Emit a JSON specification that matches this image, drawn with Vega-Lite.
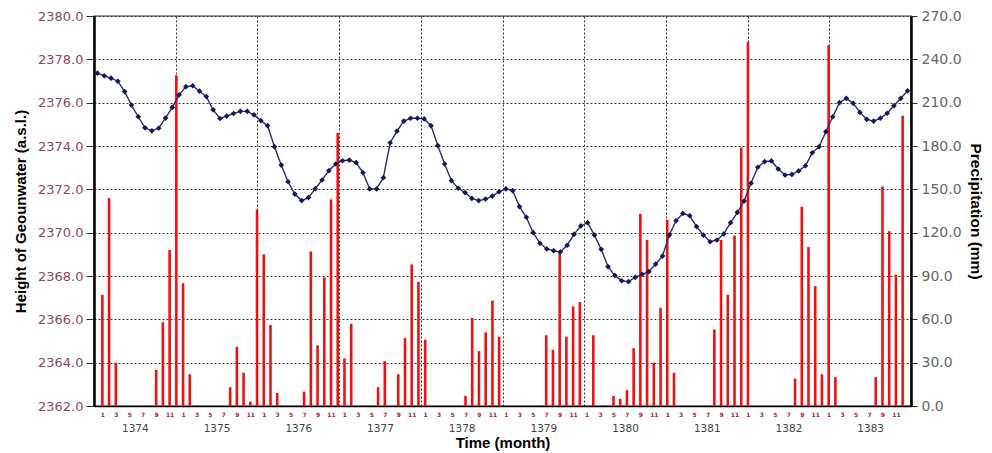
{
  "$schema": "https://vega.github.io/schema/vega-lite/v6.json",
  "width": 817,
  "height": 390,
  "autosize": {"type": "none"},
  "padding": {"left": 94, "top": 16, "right": 81, "bottom": 47},
  "background": "white",
  "config": {
    "font": "DejaVu Sans",
    "view": {"stroke": "#7a7a7a", "strokeWidth": 1.5}
  },
  "data": {
    "values": [
      {"m": 0, "gw": 2377.36, "precip": 77},
      {"m": 1, "gw": 2377.24, "precip": 144},
      {"m": 2, "gw": 2377.13, "precip": 30},
      {"m": 3, "gw": 2376.99, "precip": 0},
      {"m": 4, "gw": 2376.51, "precip": 0},
      {"m": 5, "gw": 2375.89, "precip": 0},
      {"m": 6, "gw": 2375.35, "precip": 0},
      {"m": 7, "gw": 2374.84, "precip": 0},
      {"m": 8, "gw": 2374.70, "precip": 25},
      {"m": 9, "gw": 2374.82, "precip": 58},
      {"m": 10, "gw": 2375.29, "precip": 108},
      {"m": 11, "gw": 2375.78, "precip": 229},
      {"m": 12, "gw": 2376.36, "precip": 85},
      {"m": 13, "gw": 2376.74, "precip": 22},
      {"m": 14, "gw": 2376.78, "precip": 0},
      {"m": 15, "gw": 2376.53, "precip": 0},
      {"m": 16, "gw": 2376.28, "precip": 0},
      {"m": 17, "gw": 2375.67, "precip": 0},
      {"m": 18, "gw": 2375.27, "precip": 0},
      {"m": 19, "gw": 2375.38, "precip": 13},
      {"m": 20, "gw": 2375.50, "precip": 41},
      {"m": 21, "gw": 2375.60, "precip": 23},
      {"m": 22, "gw": 2375.60, "precip": 3},
      {"m": 23, "gw": 2375.44, "precip": 136},
      {"m": 24, "gw": 2375.17, "precip": 105},
      {"m": 25, "gw": 2374.94, "precip": 56},
      {"m": 26, "gw": 2373.97, "precip": 9},
      {"m": 27, "gw": 2373.12, "precip": 0},
      {"m": 28, "gw": 2372.35, "precip": 0},
      {"m": 29, "gw": 2371.78, "precip": 0},
      {"m": 30, "gw": 2371.48, "precip": 10},
      {"m": 31, "gw": 2371.62, "precip": 107},
      {"m": 32, "gw": 2372.03, "precip": 42},
      {"m": 33, "gw": 2372.43, "precip": 89},
      {"m": 34, "gw": 2372.86, "precip": 143},
      {"m": 35, "gw": 2373.17, "precip": 189},
      {"m": 36, "gw": 2373.32, "precip": 33},
      {"m": 37, "gw": 2373.35, "precip": 57},
      {"m": 38, "gw": 2373.23, "precip": 0},
      {"m": 39, "gw": 2372.77, "precip": 0},
      {"m": 40, "gw": 2372.02, "precip": 0},
      {"m": 41, "gw": 2372.02, "precip": 13},
      {"m": 42, "gw": 2372.54, "precip": 31},
      {"m": 43, "gw": 2374.15, "precip": 0},
      {"m": 44, "gw": 2374.69, "precip": 22},
      {"m": 45, "gw": 2375.15, "precip": 47},
      {"m": 46, "gw": 2375.28, "precip": 98},
      {"m": 47, "gw": 2375.28, "precip": 86},
      {"m": 48, "gw": 2375.25, "precip": 46},
      {"m": 49, "gw": 2374.94, "precip": 0},
      {"m": 50, "gw": 2374.02, "precip": 0},
      {"m": 51, "gw": 2373.17, "precip": 0},
      {"m": 52, "gw": 2372.40, "precip": 0},
      {"m": 53, "gw": 2372.05, "precip": 0},
      {"m": 54, "gw": 2371.85, "precip": 7},
      {"m": 55, "gw": 2371.58, "precip": 61},
      {"m": 56, "gw": 2371.48, "precip": 38},
      {"m": 57, "gw": 2371.55, "precip": 51},
      {"m": 58, "gw": 2371.69, "precip": 73},
      {"m": 59, "gw": 2371.89, "precip": 48},
      {"m": 60, "gw": 2372.02, "precip": 0},
      {"m": 61, "gw": 2371.94, "precip": 0},
      {"m": 62, "gw": 2371.20, "precip": 0},
      {"m": 63, "gw": 2370.71, "precip": 0},
      {"m": 64, "gw": 2370.00, "precip": 0},
      {"m": 65, "gw": 2369.51, "precip": 0},
      {"m": 66, "gw": 2369.25, "precip": 49},
      {"m": 67, "gw": 2369.17, "precip": 39},
      {"m": 68, "gw": 2369.11, "precip": 107},
      {"m": 69, "gw": 2369.42, "precip": 48},
      {"m": 70, "gw": 2369.92, "precip": 69},
      {"m": 71, "gw": 2370.31, "precip": 72},
      {"m": 72, "gw": 2370.46, "precip": 0},
      {"m": 73, "gw": 2369.89, "precip": 49},
      {"m": 74, "gw": 2369.23, "precip": 0},
      {"m": 75, "gw": 2368.43, "precip": 0},
      {"m": 76, "gw": 2368.02, "precip": 7},
      {"m": 77, "gw": 2367.78, "precip": 5},
      {"m": 78, "gw": 2367.74, "precip": 11},
      {"m": 79, "gw": 2367.94, "precip": 40},
      {"m": 80, "gw": 2368.08, "precip": 133},
      {"m": 81, "gw": 2368.20, "precip": 115},
      {"m": 82, "gw": 2368.55, "precip": 30},
      {"m": 83, "gw": 2368.92, "precip": 68},
      {"m": 84, "gw": 2369.89, "precip": 129},
      {"m": 85, "gw": 2370.55, "precip": 23},
      {"m": 86, "gw": 2370.89, "precip": 0},
      {"m": 87, "gw": 2370.78, "precip": 0},
      {"m": 88, "gw": 2370.28, "precip": 0},
      {"m": 89, "gw": 2369.89, "precip": 0},
      {"m": 90, "gw": 2369.58, "precip": 0},
      {"m": 91, "gw": 2369.66, "precip": 53},
      {"m": 92, "gw": 2369.94, "precip": 115},
      {"m": 93, "gw": 2370.46, "precip": 77},
      {"m": 94, "gw": 2370.94, "precip": 118},
      {"m": 95, "gw": 2371.46, "precip": 179},
      {"m": 96, "gw": 2372.28, "precip": 252},
      {"m": 97, "gw": 2373.02, "precip": 0},
      {"m": 98, "gw": 2373.28, "precip": 0},
      {"m": 99, "gw": 2373.31, "precip": 0},
      {"m": 100, "gw": 2372.94, "precip": 0},
      {"m": 101, "gw": 2372.66, "precip": 0},
      {"m": 102, "gw": 2372.69, "precip": 0},
      {"m": 103, "gw": 2372.85, "precip": 19},
      {"m": 104, "gw": 2373.09, "precip": 138},
      {"m": 105, "gw": 2373.69, "precip": 110},
      {"m": 106, "gw": 2373.97, "precip": 83},
      {"m": 107, "gw": 2374.66, "precip": 22},
      {"m": 108, "gw": 2375.35, "precip": 250},
      {"m": 109, "gw": 2376.00, "precip": 20},
      {"m": 110, "gw": 2376.20, "precip": 0},
      {"m": 111, "gw": 2375.97, "precip": 0},
      {"m": 112, "gw": 2375.55, "precip": 0},
      {"m": 113, "gw": 2375.23, "precip": 0},
      {"m": 114, "gw": 2375.15, "precip": 0},
      {"m": 115, "gw": 2375.28, "precip": 20},
      {"m": 116, "gw": 2375.51, "precip": 152},
      {"m": 117, "gw": 2375.86, "precip": 121},
      {"m": 118, "gw": 2376.20, "precip": 91},
      {"m": 119, "gw": 2376.55, "precip": 201}
    ]
  },
  "layer": [
    {
      "mark": {"type": "bar", "color": "#ee1111", "size": 2.6},
      "encoding": {
        "x": {
          "field": "m",
          "type": "quantitative",
          "scale": {"domain": [-0.5, 119.5], "nice": false, "zero": false},
          "axis": {
            "orient": "bottom",
            "values": [0, 2, 4, 6, 8, 10, 12, 14, 16, 18, 20, 22, 24, 26, 28, 30, 32, 34, 36, 38, 40, 42, 44, 46, 48, 50, 52, 54, 56, 58, 60, 62, 64, 66, 68, 70, 72, 74, 76, 78, 80, 82, 84, 86, 88, 90, 92, 94, 96, 98, 100, 102, 104, 106, 108, 110, 112, 114, 116, 118],
            "labelExpr": "(datum.value % 12) + 1",
            "ticks": false,
            "grid": false,
            "domainColor": "black",
            "domainWidth": 1.5,
            "labelFontSize": 6,
            "labelFontWeight": "bold",
            "labelColor": "#a3263a",
            "labelPadding": 5,
            "labelFlush": false,
            "labelOverlap": false,
            "title": null
          }
        },
        "y": {
          "field": "precip",
          "type": "quantitative",
          "scale": {"domain": [0, 270], "nice": false},
          "axis": {
            "orient": "right",
            "values": [0, 30, 60, 90, 120, 150, 180, 210, 240, 270],
            "format": ".1f",
            "grid": false,
            "domainColor": "black",
            "domainWidth": 2.5,
            "tickColor": "#333333",
            "tickSize": 6,
            "labelPadding": 4,
            "labelFontSize": 14,
            "labelColor": "#666666",
            "title": "Precipitation (mm)",
            "titleFont": "Liberation Sans",
            "titleFontSize": 15.5,
            "titleFontWeight": "bold",
            "titleColor": "black",
            "titleAngle": 90,
            "titlePadding": 6
          }
        }
      }
    },
    {
      "mark": {
        "type": "line",
        "color": "#2b2b7c",
        "strokeWidth": 1.4,
        "point": {"shape": "diamond", "filled": true, "color": "#16165a", "size": 32}
      },
      "encoding": {
        "x": {
          "field": "m",
          "type": "quantitative",
          "scale": {"domain": [-0.5, 119.5], "nice": false, "zero": false},
          "axis": {
            "orient": "bottom",
            "values": [-0.5, 11.5, 23.5, 35.5, 47.5, 59.5, 71.5, 83.5, 95.5, 107.5],
            "labelExpr": "1374 + round((datum.value + 0.5) / 12)",
            "labelOffset": 40.85,
            "ticks": false,
            "domain": false,
            "grid": true,
            "gridColor": "#333333",
            "gridDash": [2, 2],
            "gridWidth": 1,
            "labelFontSize": 10.5,
            "labelColor": "#444444",
            "labelPadding": 17,
            "labelFlush": false,
            "labelOverlap": false,
            "title": "Time (month)",
            "titleFont": "Liberation Sans",
            "titleFontSize": 15,
            "titleFontWeight": "bold",
            "titleColor": "black",
            "titlePadding": 2
          }
        },
        "y": {
          "field": "gw",
          "type": "quantitative",
          "scale": {"domain": [2362, 2380], "nice": false, "zero": false},
          "axis": {
            "orient": "left",
            "values": [2362, 2364, 2366, 2368, 2370, 2372, 2374, 2376, 2378, 2380],
            "format": ".1f",
            "grid": true,
            "gridColor": "#333333",
            "gridDash": [2, 2],
            "gridWidth": 1,
            "domainColor": "black",
            "domainWidth": 2.5,
            "tickColor": "#333333",
            "tickSize": 8,
            "labelPadding": 3,
            "labelFontSize": 13,
            "labelColor": "#8e4a5a",
            "title": "Height of Geounwater (a.s.l.)",
            "titleFont": "Liberation Sans",
            "titleFontSize": 15,
            "titleFontWeight": "bold",
            "titleColor": "black",
            "titlePadding": 9
          }
        }
      }
    }
  ],
  "resolve": {"scale": {"x": "independent", "y": "independent"}}
}
